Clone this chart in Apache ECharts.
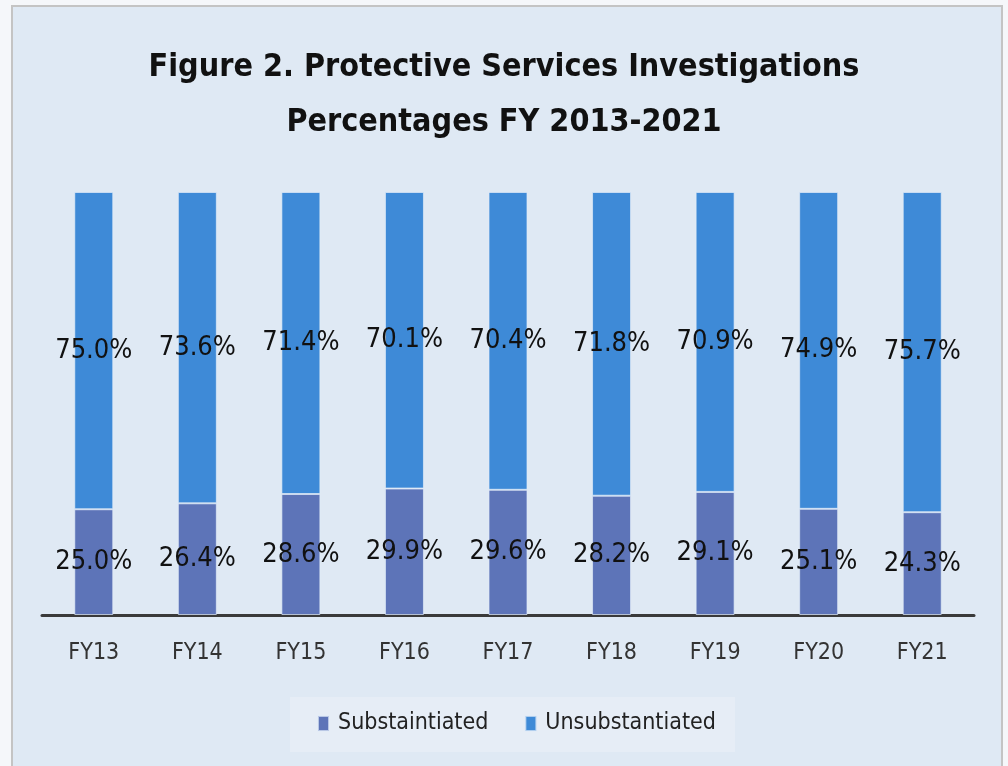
<!DOCTYPE html>
<html>
<head>
<meta charset="utf-8">
<script src="https://cdn.jsdelivr.net/npm/echarts@6/dist/echarts.min.js"></script>
<style>
html,body{margin:0;padding:0;background:#f5f7fa;width:1008px;height:766px;overflow:hidden;}
#panel{position:absolute;left:11px;top:5px;width:992px;height:780px;background:#dfe9f4;border:2px solid #c4c4c4;box-sizing:border-box;}
#chart{position:absolute;left:0;top:0;width:1008px;height:766px;}
</style>
</head>
<body>
<div id="panel"></div>
<div id="chart"></div>
<script>
const categories = ['FY13','FY14','FY15','FY16','FY17','FY18','FY19','FY20','FY21'];
const substantiated = [25.0, 26.4, 28.6, 29.9, 29.6, 28.2, 29.1, 25.1, 24.3];
const unsubstantiated = [75.0, 73.6, 71.4, 70.1, 70.4, 71.8, 70.9, 74.9, 75.7];
const seriesNames = ['Substaintiated', 'Unsubstantiated'];
const titleText = 'Figure 2. Protective Services Investigations\nPercentages FY 2013-2021';

const FONT = '"DejaVu Sans Condensed", "Liberation Sans", sans-serif';
const chart = echarts.init(document.getElementById('chart'), null, {renderer:'canvas'});
const labelCfg = {
  show: true, position: 'inside',
  formatter: p => p.value.toFixed(1) + '%',
  fontFamily: FONT, fontSize: 27, color: '#111', textBorderWidth: 0
};
chart.setOption({
  backgroundColor: 'transparent',
  animation: false,
  title: {
    text: titleText, left: 'center', top: 35,
    textStyle: {fontFamily: FONT, fontWeight: 'bold', fontSize: 32, lineHeight: 55, color: '#111'}
  },
  graphic: [{
    type: 'rect', left: 290, top: 697, z: -1,
    shape: {width: 445, height: 55},
    style: {fill: '#e6edf6'}
  }],
  legend: {
    data: seriesNames, left: 312, top: 707,
    itemWidth: 11, itemHeight: 15, itemGap: 36,
    icon: 'rect',
    textStyle: {fontFamily: FONT, fontSize: 23, color: '#222', padding: [0, 0, 0, 4]}
  },
  grid: {left: 42, right: 34, top: 192, bottom: 151, containLabel: false},
  xAxis: {
    type: 'category', data: categories,
    axisLine: {lineStyle: {color: '#3a3a3a', width: 3}},
    axisTick: {show: false},
    axisLabel: {fontFamily: FONT, fontSize: 23, color: '#333', margin: 27}
  },
  yAxis: {type: 'value', min: 0, max: 100, show: false, splitLine: {show: false}},
  series: [
    {name: seriesNames[0], type: 'bar', stack: 'total', data: substantiated, barWidth: 39,
     itemStyle: {color: '#5d74b8', borderColor: 'rgba(225,235,248,0.7)', borderWidth: 1}, label: labelCfg},
    {name: seriesNames[1], type: 'bar', stack: 'total', data: unsubstantiated, barWidth: 39,
     itemStyle: {color: '#3e8ad7', borderColor: 'rgba(225,235,248,0.7)', borderWidth: 1}, label: labelCfg}
  ]
});
</script>
</body>
</html>
